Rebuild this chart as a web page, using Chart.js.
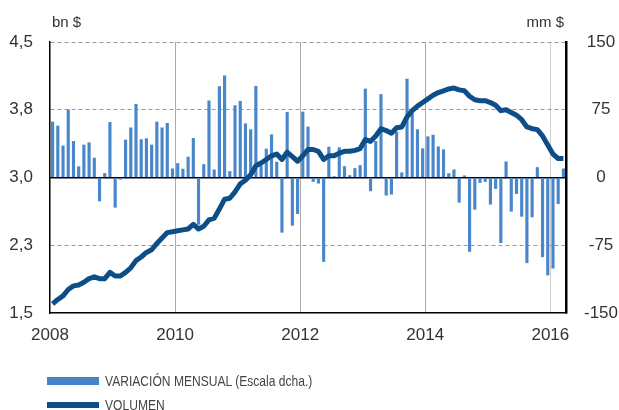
<!DOCTYPE html>
<html>
<head>
<meta charset="utf-8">
<script src="https://cdn.jsdelivr.net/npm/chart.js@4.4.1/dist/chart.umd.min.js"></script>
<style>
  body { margin: 0; background: #fff; }
  #wrap { position: relative; width: 619px; height: 410px; overflow: hidden; font-family: "Liberation Sans", Arial, sans-serif; color: #333; }
  .unit { position: absolute; top: 13px; font-size: 15px; }
  .leg { position: absolute; left: 47px; height: 14px; line-height: 14px; display: flex; align-items: center; font-size: 15px; color: #444; white-space: nowrap; }
  .leg .sw { width: 52px; margin-right: 6px; flex: none; }
  .leg .txt { transform: scaleX(0.805); transform-origin: left center; }
</style>
</head>
<body>
<div id="wrap">
  <canvas id="myChart" width="619" height="410"></canvas>
  <div class="unit" style="left:52px">bn $</div>
  <div class="unit" style="right:55px">mm $</div>
  <div class="leg" style="top:374px"><span class="sw" style="height:8px;background:#4684c9"></span><span class="txt">VARIACIÓN MENSUAL (Escala dcha.)</span></div>
  <div class="leg" style="top:398px"><span class="sw" style="height:6px;background:#0d4e89"></span><span class="txt">VOLUMEN</span></div>
</div>
<script>
// monthly data, Jan 2008 - Mar 2016
const variacion = [
  61.5, 57, 35, 75, 40, 12, 36, 38.5, 21.5, -26, 4.5, 61,
  -33, -2, 41.5, 55, 81, 42, 43, 36, 61.5, 55, 60, 9.6,
  15.5, 9.3, 22.6, 43.3, -51.9, 14.4, 84.8, 8.5, 100.7, 112.6, 6.7, 79.6,
  84.4, 59.6, 53, 101, 13, 31.5, 47.4, 17, -60.7, 72.2, -53, -40,
  72.6, 56, -4.4, -6.3, -93, 33.7, 1, 33, 12.2, 2.2, 10, 13.3,
  98, -14.8, 40, 91.9, -19.6, -18.5, 50.4, 5.2, 109, 70.4, 53, 31.9,
  45.2, 47, 34, 30.7, 4.4, 8.5, -27.4, 1.9, -81.9, -35.2, -5.6, -4.4,
  -29.6, -12.2, -72.2, 17.4, -37.4, -17.8, -43, -94.4, -43.7, 11.1, -87.8, -108,
  -100.4, -28.9, 9.6
]
const volumen = [
  1.60, 1.65, 1.69, 1.76, 1.80, 1.81, 1.84, 1.88, 1.90, 1.88, 1.88, 1.95,
  1.91, 1.91, 1.95, 2.00, 2.08, 2.12, 2.17, 2.20, 2.27, 2.33, 2.39, 2.40,
  2.41, 2.42, 2.43, 2.48, 2.43, 2.46, 2.53, 2.55, 2.65, 2.76, 2.77, 2.84,
  2.93, 2.97, 3.03, 3.13, 3.16, 3.20, 3.24, 3.26, 3.20, 3.28, 3.23, 3.18,
  3.24, 3.31, 3.31, 3.29, 3.20, 3.24, 3.24, 3.27, 3.29, 3.29, 3.30, 3.32,
  3.42, 3.40, 3.46, 3.54, 3.52, 3.49, 3.55, 3.56, 3.67, 3.74, 3.79, 3.83,
  3.87, 3.91, 3.94, 3.96, 3.98, 3.99, 3.97, 3.96, 3.90, 3.86, 3.85, 3.85,
  3.83, 3.80, 3.74, 3.75, 3.72, 3.69, 3.64, 3.56, 3.54, 3.53, 3.46, 3.36,
  3.26, 3.21, 3.21
]
const yearTicks = [2008, 2010, 2012, 2014, 2016]
const leftTicks = [1.5, 2.25, 3.0, 3.75, 4.5]
const leftLabels = ['1,5', '2,3', '3,0', '3,8', '4,5']
const rightTicks = [-150, -75, 0, 75, 150]

// mid-month positions on the year axis
const months = variacion.map((v, i) => 2008 + (i + 0.5) / 12)

const tickFont = { family: 'Liberation Sans', size: 17 }

const config = {
  type: 'bar',
  data: {
    labels: months,
    datasets: [{
      type: 'line',
      label: 'VOLUMEN',
      data: volumen,
      yAxisID: 'y',
      borderColor: '#0d4e89',
      borderWidth: 5,
      pointRadius: 0,
      borderJoinStyle: 'round',
      tension: 0,
      order: 0
    }, {
      type: 'bar',
      label: 'VARIACIÓN MENSUAL (Escala dcha.)',
      data: variacion,
      yAxisID: 'y1',
      backgroundColor: '#4a87ca',
      barThickness: 2.5,
      order: 1
    }]
  },
  options: {
    responsive: false,
    animation: false,
    devicePixelRatio: 1,
    layout: { padding: { top: 42, left: 0, right: 0, bottom: 67 } },
    plugins: {
      legend: { display: false },
      tooltip: { enabled: false }
    },
    scales: {
      x: {
        type: 'linear',
        position: 'bottom',
        min: 2008,
        max: 2016.25,
        offset: false,
        afterBuildTicks: (s) => { s.ticks = yearTicks.map(v => ({ value: v })) },
        afterFit: (s) => { s.height = 30 },
        grid: {
          offset: false,
          drawTicks: false,
          lineWidth: 1,
          color: (c) => c.tick && c.tick.value === 2008 ? 'rgba(0,0,0,0)' : (c.tick && c.tick.value === 2016 ? '#cfcfcf' : '#ababab')
        },
        border: { color: '#000', width: 1.5 },
        ticks: { font: tickFont, color: '#333', padding: 12, maxRotation: 0, autoSkip: false, callback: (v) => String(v) }
      },
      y: {
        type: 'linear',
        position: 'left',
        min: 1.5,
        max: 4.5,
        afterBuildTicks: (s) => { s.ticks = leftTicks.map(v => ({ value: v })) },
        afterFit: (s) => { s.width = 50 },
        grid: {
          drawTicks: false,
          lineWidth: 1,
          color: (c) => c.tick && (c.tick.value === 3 || c.tick.value === 1.5) ? 'rgba(0,0,0,0)' : '#9a9a9a'
        },
        border: { color: '#000', width: 1.5, dash: [4, 3] },
        ticks: { font: tickFont, color: '#333', padding: 17, callback: (v, i) => leftLabels[i] }
      },
      y1: {
        type: 'linear',
        position: 'right',
        min: -150,
        max: 150,
        afterBuildTicks: (s) => { s.ticks = rightTicks.map(v => ({ value: v })) },
        afterFit: (s) => { s.width = 53 },
        grid: {
          drawTicks: false,
          lineWidth: 1.5,
          color: (c) => c.tick && c.tick.value === 0 ? '#000' : 'rgba(0,0,0,0)'
        },
        border: { color: '#000', width: 2.5 },
        ticks: { font: tickFont, color: '#333', padding: 18, crossAlign: 'center', callback: (v) => String(v) }
      }
    }
  }
}

var myChart = new Chart(document.getElementById('myChart'), config)
</script>
</body>
</html>
